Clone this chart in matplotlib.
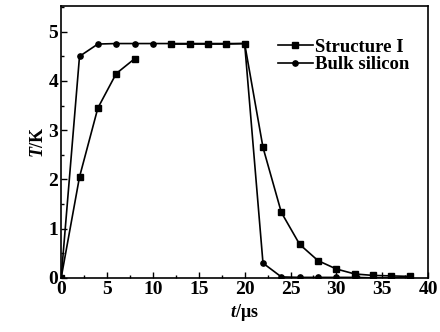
import numpy as np
import matplotlib.pyplot as plt
from matplotlib.ticker import MultipleLocator

# time points (microseconds)
t = [0, 2, 4, 6, 8, 10, 12, 14, 16, 18, 20, 22, 24, 26, 28, 30, 32, 34, 36, 38]

# Structure I (squares) - no point at 10 us in the original
structure_1 = [0, 2.05, 3.45, 4.15, 4.45, np.nan, 4.75, 4.75, 4.75, 4.75, 4.76,
               2.65, 1.33, 0.68, 0.35, 0.18, 0.08, 0.05, 0.04, 0.03]
# Bulk silicon (circles)
bulk_silicon = [0, 4.5, 4.75, 4.76, 4.76, 4.76, 4.76, 4.76, 4.76, 4.76, 4.76,
                0.3, 0.02, 0.01, 0.01, 0.01, 0.01, 0.0, 0.0, 0.0]

plt.rcParams['font.family'] = ['Liberation Serif', 'DejaVu Serif']
plt.rcParams['font.weight'] = 'bold'
plt.rcParams['mathtext.fontset'] = 'custom'
plt.rcParams['mathtext.it'] = 'Liberation Serif:italic:bold'
plt.rcParams['mathtext.rm'] = 'Liberation Serif:bold'

fig = plt.figure(figsize=(4.4, 3.32), dpi=100)
ax = fig.add_axes([0.139, 0.163, 0.834, 0.82])

ax.plot(t, structure_1, color='black', marker='s', markersize=3.8, lw=1.2, label='Structure I')
ax.plot(t, bulk_silicon, color='black', marker='o', markersize=3.8, lw=1.2, label='Bulk silicon')

ax.set_xlim(0, 40)
ax.set_ylim(0, 5.53)
ax.xaxis.set_major_locator(MultipleLocator(5))
ax.xaxis.set_minor_locator(MultipleLocator(2.5))
ax.yaxis.set_major_locator(MultipleLocator(1))
ax.yaxis.set_minor_locator(MultipleLocator(0.5))
ax.tick_params(which='both', direction='in', labelsize=14, width=1)
ax.tick_params(which='major', length=4, pad=2)
ax.tick_params(which='minor', length=2)
for s in ax.spines.values():
    s.set_linewidth(1.2)

ax.set_xlabel('$t$/μs', fontsize=13, fontweight='bold', labelpad=3)
ax.set_ylabel('$T$/K', fontsize=13, fontweight='bold', labelpad=1)

ax.legend(loc='upper right', frameon=False, fontsize=13.5, handlelength=1.9,
          handletextpad=0.1, labelspacing=0.0, bbox_to_anchor=(0.995, 0.94))

plt.savefig('out.png', dpi=100)
